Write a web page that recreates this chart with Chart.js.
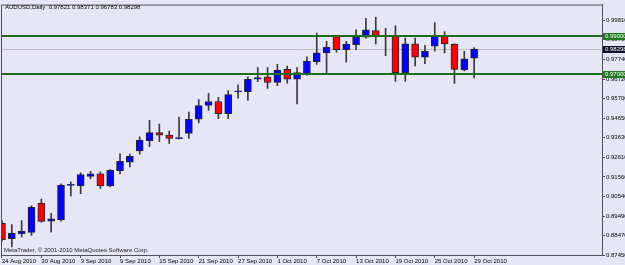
<!DOCTYPE html>
<html>
<head>
<meta charset="utf-8">
<script src="https://cdn.jsdelivr.net/npm/chart.js@4.4.0/dist/chart.umd.min.js"></script>
<style>
  html, body { margin: 0; padding: 0; background: #e6e6f6; }
  #chart { display: block; }
</style>
</head>
<body>
<canvas id="chart" width="625" height="265"></canvas>
<script>
var dates = [
  '24 Aug 2010', '25 Aug 2010', '26 Aug 2010', '27 Aug 2010', '30 Aug 2010', '31 Aug 2010',
  '1 Sep 2010', '2 Sep 2010', '3 Sep 2010', '6 Sep 2010', '7 Sep 2010', '8 Sep 2010',
  '9 Sep 2010', '10 Sep 2010', '13 Sep 2010', '14 Sep 2010', '15 Sep 2010', '16 Sep 2010',
  '17 Sep 2010', '20 Sep 2010', '21 Sep 2010', '22 Sep 2010', '23 Sep 2010', '24 Sep 2010',
  '27 Sep 2010', '28 Sep 2010', '29 Sep 2010', '30 Sep 2010', '1 Oct 2010', '4 Oct 2010',
  '5 Oct 2010', '6 Oct 2010', '7 Oct 2010', '8 Oct 2010', '11 Oct 2010', '12 Oct 2010',
  '13 Oct 2010', '14 Oct 2010', '15 Oct 2010', '18 Oct 2010', '19 Oct 2010', '20 Oct 2010',
  '21 Oct 2010', '22 Oct 2010', '25 Oct 2010', '26 Oct 2010', '27 Oct 2010', '28 Oct 2010',
  '29 Oct 2010'
];
var opens = [
  0.89124, 0.88304, 0.88574, 0.88641, 0.90184, 0.89228, 0.89301, 0.91109, 0.91083, 0.91587,
  0.91722, 0.91083, 0.91898, 0.92345, 0.92937, 0.93472, 0.93904, 0.93768, 0.93581, 0.93852,
  0.94600, 0.95327, 0.95535, 0.94891, 0.96050, 0.96054, 0.96709, 0.96833, 0.96537, 0.97228,
  0.96709, 0.97020, 0.97628, 0.98096, 0.98963, 0.98267, 0.98527, 0.98927, 0.99275, 0.98968,
  0.98963, 0.97057, 0.98579, 0.97872, 0.98444, 0.98963, 0.98563, 0.97197, 0.97821
];
var highs = [
  0.89265, 0.89057, 0.89265, 0.90044, 0.90392, 0.89644, 0.91202, 0.91306, 0.91774, 0.91862,
  0.91826, 0.91950, 0.92781, 0.92761, 0.93680, 0.94548, 0.94340, 0.93976, 0.94719, 0.94979,
  0.95639, 0.95966, 0.95758, 0.96106, 0.96418, 0.96833, 0.97316, 0.97316, 0.97488, 0.97405,
  0.97316, 0.97888, 0.99135, 0.98704, 0.98979, 0.98704, 0.99306, 0.99914, 0.99966, 0.99394,
  0.99524, 0.98875, 0.98875, 0.98496, 0.99691, 0.99223, 0.98580, 0.98184, 0.98371
];
var lows = [
  0.88174, 0.87878, 0.88397, 0.88485, 0.89176, 0.88657, 0.89228, 0.90563, 0.90683, 0.91462,
  0.90963, 0.91031, 0.91722, 0.92085, 0.92761, 0.93161, 0.93420, 0.93332, 0.93561, 0.93592,
  0.94407, 0.95067, 0.94631, 0.94631, 0.95706, 0.95587, 0.96574, 0.96226, 0.96366, 0.96501,
  0.95410, 0.96916, 0.97488, 0.97005, 0.98132, 0.97613, 0.98267, 0.98875, 0.98563, 0.97955,
  0.96589, 0.96589, 0.97405, 0.97524, 0.98184, 0.98096, 0.96485, 0.97145, 0.96783
];
var closes = [
  0.88262, 0.88605, 0.88709, 0.89955, 0.89213, 0.89353, 0.91135, 0.91171, 0.91690, 0.91722,
  0.91083, 0.91914, 0.92381, 0.92641, 0.93509, 0.93904, 0.93768, 0.93592, 0.93602, 0.94600,
  0.95327, 0.95535, 0.94891, 0.95898, 0.96058, 0.96709, 0.96797, 0.96537, 0.97197, 0.96709,
  0.97057, 0.97665, 0.98096, 0.98407, 0.98267, 0.98563, 0.98927, 0.99306, 0.98994, 0.98989,
  0.97057, 0.98579, 0.97872, 0.98184, 0.98963, 0.98563, 0.97228, 0.97784, 0.98298
];
var priceTicks = [0.99810, 0.98790, 0.97740, 0.96720, 0.95700, 0.94650, 0.93630,
  0.92610, 0.91560, 0.90540, 0.89490, 0.88470, 0.87450];
var levels = [0.99000, 0.97000];
var symbol = 'AUDUSD,Daily';
var copyright = 'MetaTrader, \u00a9 2001-2010 MetaQuotes Software Corp.';

var FONT = "'Liberation Sans', Arial, sans-serif";
var last = dates.length - 1;

// toFixed rounds 0.96783 down to 0.96782, so nudge it first
function price(v) { return (v + 1e-9).toFixed(5); }

var overlay = {
  id: 'overlay',
  beforeDraw: function(chart) {
    var c = chart.ctx;
    c.save();
    c.fillStyle = '#e6e6f6';
    c.fillRect(0, 0, chart.width, chart.height);
    c.restore();
  },
  beforeDatasetsDraw: function(chart) {
    var c = chart.ctx, a = chart.chartArea, y = chart.scales.y;
    var py = Math.round(y.getPixelForValue(closes[last])) + 0.5;
    c.save();
    c.strokeStyle = '#bdbdc2';
    c.lineWidth = 1;
    c.beginPath(); c.moveTo(a.left, py); c.lineTo(a.right, py); c.stroke();
    c.restore();
  },
  afterDatasetsDraw: function(chart) {
    var c = chart.ctx, a = chart.chartArea, y = chart.scales.y;
    c.save();
    c.strokeStyle = '#1f6e1f';
    c.lineWidth = 2;
    levels.forEach(function(v) {
      var py = Math.round(y.getPixelForValue(v));
      c.beginPath(); c.moveTo(a.left, py); c.lineTo(a.right, py); c.stroke();
    });
    c.restore();
  },
  afterDraw: function(chart) {
    var c = chart.ctx, a = chart.chartArea, y = chart.scales.y;
    c.save();
    c.strokeStyle = '#505058';
    c.lineWidth = 1;
    c.strokeRect(a.left + 0.5, a.top + 0.5, a.right - a.left, a.bottom - a.top);

    c.font = '6px ' + FONT;
    c.textBaseline = 'middle';
    c.textAlign = 'left';
    c.fillStyle = '#000';
    c.fillText(symbol + '  ' + [opens[last], highs[last], lows[last], closes[last]].map(price).join(' '), 5, 7);
    c.fillStyle = '#222';
    c.fillText(copyright, 4, 250);

    function box(v, fill) {
      var py = Math.round(y.getPixelForValue(v));
      c.fillStyle = fill;
      c.fillRect(a.right + 1, py - 3, chart.width - a.right, 7);
      c.fillStyle = '#fff';
      c.fillText(price(v), a.right + 3, py + 0.5);
    }
    levels.forEach(function(v) { box(v, '#1f7a1f'); });
    box(closes[last], '#10102e');
    c.restore();
  }
};

new Chart(document.getElementById('chart'), {
  type: 'bar',
  data: {
    datasets: [{
      label: 'wick',
      data: dates.map(function(d, i) { return { x: i, y: [lows[i], highs[i]] }; }),
      backgroundColor: '#3a3a3a',
      barThickness: 1,
      grouped: false,
      order: 2
    }, {
      label: 'body',
      data: dates.map(function(d, i) { return { x: i, y: [opens[i], closes[i]] }; }),
      backgroundColor: closes.map(function(v, i) { return v >= opens[i] ? '#0000ff' : '#ff0000'; }),
      borderColor: '#26262e',
      borderWidth: 1,
      borderSkipped: false,
      barThickness: 7,
      minBarLength: 1,
      grouped: false,
      order: 1
    }]
  },
  options: {
    responsive: false,
    animation: false,
    devicePixelRatio: 1,
    layout: { padding: { top: 1, left: 1, right: 0, bottom: 0 } },
    plugins: { legend: { display: false }, tooltip: { enabled: false } },
    scales: {
      x: {
        type: 'linear',
        min: -0.1,
        max: 61,
        offset: false,
        afterBuildTicks: function(s) {
          s.ticks = dates.map(function(d, i) { return i; })
            .filter(function(i) { return i % 4 === 0; })
            .map(function(i) { return { value: i }; });
        },
        afterFit: function(s) { s.height = 10; },
        ticks: {
          callback: function(v) { return dates[v]; },
          autoSkip: false,
          maxRotation: 0,
          align: 'start',
          padding: 0,
          color: '#000',
          font: { family: FONT, size: 6 }
        },
        grid: { offset: false, drawOnChartArea: false, tickLength: 3, color: '#505058' },
        border: { color: '#505058' }
      },
      y: {
        position: 'right',
        min: 0.8745,
        max: 1.0064,
        afterBuildTicks: function(s) {
          s.ticks = priceTicks.map(function(v) { return { value: v }; });
        },
        afterFit: function(s) { s.width = 23; },
        ticks: {
          callback: function(v) { return price(v); },
          padding: 1,
          color: '#000',
          font: { family: FONT, size: 6 }
        },
        grid: { drawOnChartArea: false, tickLength: 3, color: '#505058' },
        border: { color: '#505058' }
      }
    }
  },
  plugins: [overlay]
});
</script>
</body>
</html>
